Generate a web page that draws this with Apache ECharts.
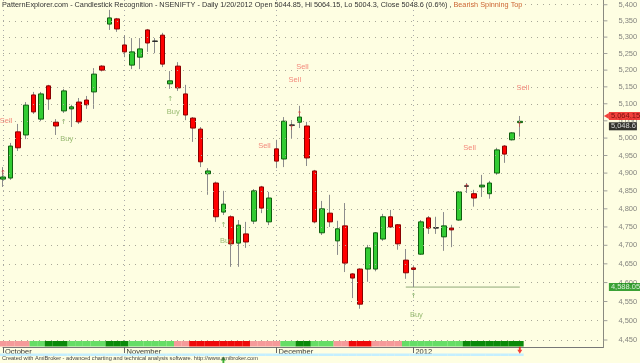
<!DOCTYPE html>
<html><head><meta charset="utf-8">
<script src="https://cdn.jsdelivr.net/npm/echarts@6/dist/echarts.min.js"></script>
<style>html,body{margin:0;padding:0;background:#fefee2}#c{width:640px;height:363px}</style>
</head><body><div id="c"></div>
<script>
// ---- data (NSENIFTY daily, Oct 2011 - 20 Jan 2012) ----
const opens  = [4883,4886,5018,5009,5126,5055,5153,5046,5079,5085,5105,5111,5135,5212,5340,5356,5276,5215,5239,5322,5288,5306,5159,5212,5129,5058,5026,4898,4872,4791,4778,4706,4731,4766,4861,4764,4969,4940,5038,5046,5035,4906,4734,4788,4712,4753,4623,4636,4636,4636,4717,4778,4756,4660,4639,4676,4775,4748,4723,4747,4769,4864,4842,4861,4842,4900,4977,4995,5044.85];
const highs  = [4917,4986,5041,5105,5135,5135,5156,5055,5144,5097,5117,5123,5206,5215,5384,5359,5306,5297,5297,5325,5297,5313,5197,5224,5156,5061,5032,4914,4876,4850,4782,4769,4764,4855,4864,4847,4995,5061,5052,5094,5047,4909,4822,4839,4767,4816,4625,4638,4701,4736,4786,4797,4758,4690,4644,4769,4780,4778,4791,4756,4849,4872,4853,4895,4878,4972,4980,5017,5064.15];
const lows   = [4861,4881,4963,4997,5070,5049,5082,5009,5073,5032,5041,5085,5085,5196,5322,5316,5239,5203,5203,5255,5251,5209,5144,5138,5052,4989,4917,4839,4764,4783,4642,4642,4693,4758,4788,4755,4914,4917,5000,5029,4920,4760,4728,4750,4674,4628,4559,4531,4602,4630,4712,4747,4688,4610,4588.05,4674,4731,4731,4685,4695,4767,4844,4806,4833,4828,4895,4929,4993,5004.3];
const closes = [4889,4977,4972,5096,5076,5129,5114,5035,5138,5091,5047,5097,5188,5200,5359,5325,5255,5255,5264,5282,5287,5218,5168,5147,5067,5029,4932,4906,4778,4813,4704,4755,4709,4850,4802,4830,4934,5049,5037,5061,4943,4764,4800,4764,4745,4652,4612,4543,4693,4734,4778,4750,4704,4626,4635,4764,4747,4747,4753,4742,4847,4863,4830,4866,4872,4966,4954,5015,5048.6];
const dojiIdx = [20, 38, 57, 61];

// trend ribbon state per bar: P = weak down, R = down, L = weak up, D = up
const ribbon = "PPPPLLDDDLLLLLDDDLLLLLLPPRRRRRRRRPPPPLLDDLLLPPRRRPPPPLLLLLLLLDDDDDDDD";

const monthStart = [0, 16, 36, 54];
const monthNames = ['October', 'November', 'December', '2012'];

const yTicks = [4450,4500,4550,4600,4650,4700,4750,4800,4850,4900,4950,5000,5050,5100,5150,5200,5250,5300,5350,5400];

const buyIdx = [8, 22, 29, 54];
const buyTextPrice = [4997, 5076, 4712, 4515];
const buyArrowPrice = [5046, 5114, 4755, 4564];
const sellIdx = [0, 34, 38, 39, 61, 68];
const sellTextPrice = [5049, 4977, 5171, 5209, 4972, 5147];
const sellArrowIdx = [0, 38, 39, 61, 68];
const sellArrowPrice = [4900, 5029, 5070, 4861, 5038];

const lastHigh = 5064.15, lastClose = 5048.6, periodLow = 4588.05;
const lowLineFrom = 53, lowLineTo = 68;
const footBuyIdx = 29, footSellIdx = 68;

// ---- layout / styling ----
const BG = '#fefee2';
const padSlots = 11;
const cats = opens.map((_, i) => 'bar' + i).concat(Array.from({length: padSlots}, (_, k) => 'pad' + k));
const lastSlot = cats.length - 1;
const fmt = v => v.toLocaleString('en-US', {maximumFractionDigits: 2});
const ribbonColor = {P: '#f59a9a', R: '#ee0a0a', L: '#66dd66', D: '#0a8a0a'};
const FONT = 'Liberation Sans';
const HIDDEN = {color: 'rgba(0,0,0,0)'};

const bodyData = opens.map((o, i) => {
  const c = closes[i];
  const item = {value: [o, c, Math.min(o, c), Math.max(o, c)]};
  if (dojiIdx.includes(i)) item.itemStyle = {color: '#222', color0: '#222', borderColor: '#222', borderColor0: '#222'};
  return item;
});

const textSeries = (name, xs, ys, text, color, font, size, off) => ({
  type: 'scatter', name, z: 4, clip: false, symbol: 'circle', symbolSize: 1, itemStyle: HIDDEN,
  data: xs.map((x, k) => [x, ys[k]]),
  label: {show: true, position: 'inside', offset: off, formatter: text, fontSize: size, color, fontFamily: font}
});

const chart = echarts.init(document.getElementById('c'), null, {renderer: 'canvas'});
chart.setOption({
  backgroundColor: BG,
  animation: false,
  textStyle: {fontFamily: FONT},
  title: [{
    left: 2, top: 1, padding: [0, 1, 0, 0], backgroundColor: BG,
    text: '{a|PatternExplorer.com - Candlestick Recognition - NSENIFTY - Daily 1/20/2012 Open 5044.85, Hi 5064.15, Lo 5004.3, Close 5048.6 (0.6%) , }{b|Bearish Spinning Top}',
    textStyle: {fontSize: 7.3, fontWeight: 'normal', fontFamily: FONT,
      rich: {a: {color: '#333', fontSize: 7.3, fontFamily: FONT}, b: {color: '#cc6633', fontSize: 7.3, fontFamily: FONT}}}
  }, {
    left: 2, top: 355.5, padding: 0,
    text: 'Created with AmiBroker - advanced charting and technical analysis software. http://www.amibroker.com',
    textStyle: {fontSize: 5.6, fontWeight: 'normal', color: '#444', fontFamily: FONT}
  }],
  grid: [
    {left: 3, right: 36.6, top: 0, bottom: 16},
    {left: 3, right: 36.6, top: 341, height: 5.5},
    {left: 3, right: 36.6, top: 353.5, height: 2.5}
  ],
  xAxis: [{
    type: 'category', data: cats, boundaryGap: false, gridIndex: 0,
    axisLine: {show: true, lineStyle: {color: '#777'}},
    axisTick: {show: true, length: 6, interval: i => monthStart.includes(i), lineStyle: {color: '#666'}},
    axisLabel: {show: true, interval: i => monthStart.includes(i), formatter: (v, i) => monthNames[monthStart.indexOf(i)],
      align: 'left', margin: 1, padding: [0, 0, 0, 2], fontSize: 7.5, color: '#333', fontFamily: FONT},
    splitLine: {show: true, interval: i => monthStart.includes(i), lineStyle: {color: '#aaa', type: [1, 4]}}
  }, {
    type: 'category', data: cats, boundaryGap: false, gridIndex: 1, show: false
  }, {
    type: 'category', data: cats, boundaryGap: false, gridIndex: 2, show: false
  }],
  yAxis: [{
    type: 'log', logBase: 10, min: 4432.1, max: 5414.7, position: 'right', gridIndex: 0,
    axisLine: {show: true, lineStyle: {color: '#8a8a80'}},
    axisTick: {show: false}, axisLabel: {show: false}, splitLine: {show: false}
  }, {
    type: 'value', min: 0, max: 1, gridIndex: 1, show: false
  }, {
    type: 'value', min: 0, max: 1, gridIndex: 2, show: false
  }],
  series: [
    { // y ticks, labels and dotted horizontal grid
      type: 'scatter', name: 'yticks', z: 1, clip: false,
      data: yTicks.map(t => [lastSlot, t]),
      symbol: 'rect', symbolSize: [4, 1], symbolOffset: [2, 0],
      itemStyle: {color: '#888'},
      label: {show: true, position: 'right', distance: 11, fontSize: 7.5, color: '#666', fontFamily: FONT,
        formatter: p => fmt(p.value[1])},
      markLine: {silent: true, symbol: 'none', label: {show: false},
        lineStyle: {color: '#a8a898', type: [1, 5], width: 1},
        data: yTicks.map(t => ({yAxis: t}))}
    },
    { // wicks
      type: 'candlestick', name: 'wick', barWidth: 1, z: 2,
      data: opens.map((o, i) => [o, closes[i], lows[i], highs[i]]),
      itemStyle: {color: '#8c8c8c', color0: '#8c8c8c', borderColor: '#8c8c8c', borderColor0: '#8c8c8c', borderWidth: 1}
    },
    { // bodies
      type: 'candlestick', name: 'body', barWidth: 5, z: 3,
      data: bodyData,
      itemStyle: {color: '#33cc33', color0: '#ff0000', borderColor: '#0f5f0f', borderColor0: '#8a0000', borderWidth: 1}
    },
    { // period low line
      type: 'line', name: 'low', symbol: 'none', z: 2,
      data: [[lowLineFrom, periodLow], [lowLineTo, periodLow]],
      lineStyle: {color: '#8fa878', width: 1}
    },
    textSeries('buyText', buyIdx, buyTextPrice, 'Buy', '#7faa55', FONT, 7.5, [3, 0]),
    textSeries('buyArrow', buyIdx, buyArrowPrice, '↑', '#6aa04a', 'DejaVu Sans', 7, [0, 0]),
    textSeries('sellText', sellIdx, sellTextPrice, 'Sell', '#f06a60', FONT, 7.5, [3, 0]),
    textSeries('sellArrow', sellArrowIdx, sellArrowPrice, '↑', '#e03030', 'DejaVu Sans', 7, [0, 0]),
    { // price tags on the axis
      type: 'scatter', name: 'tags', z: 6, clip: false,
      data: [
        {value: [lastSlot, lastHigh], symbol: 'triangle', symbolSize: [6, 5], symbolRotate: 90, symbolOffset: [3, 0],
          itemStyle: {color: '#ee1111'},
          label: {backgroundColor: '#ee1111', color: '#5a0000', distance: 0}},
        {value: [lastSlot, lastClose], symbol: 'circle', symbolSize: 1, itemStyle: HIDDEN,
          label: {backgroundColor: '#000', color: '#fff', offset: [0, 5], distance: 5}},
        {value: [lastSlot, periodLow], symbol: 'circle', symbolSize: 1, itemStyle: HIDDEN,
          label: {backgroundColor: '#0a8a0a', color: '#fff', distance: 5}}
      ],
      label: {show: true, position: 'right', fontSize: 7.5, padding: [0, 1, 0, 2], lineHeight: 8, fontFamily: FONT,
        formatter: p => fmt(p.value[1])}
    },
    { // trend ribbon
      type: 'bar', name: 'ribbon', xAxisIndex: 1, yAxisIndex: 1, barWidth: 7.7, clip: false,
      data: ribbon.split('').map(c => ({value: 1, itemStyle: {color: ribbonColor[c]}}))
    },
    { // light strip
      type: 'bar', name: 'strip', xAxisIndex: 2, yAxisIndex: 2, barWidth: 7.7, clip: false,
      data: ribbon.split('').map(() => 1), itemStyle: {color: '#c4efff'}
    },
    { type: 'scatter', name: 'footSignals', xAxisIndex: 2, yAxisIndex: 2, clip: false, z: 5,
      symbol: 'path://M0,0 L4,5 L1.5,5 L1.5,9 L-1.5,9 L-1.5,5 L-4,5 Z', symbolSize: [5, 7],
      data: [
        {value: [footBuyIdx, -1.6], itemStyle: {color: '#0a9a0a'}},
        {value: [footSellIdx, 2.3], symbolRotate: 180, itemStyle: {color: '#ee1111'}}
      ] }
  ]
});
</script>
</body></html>
